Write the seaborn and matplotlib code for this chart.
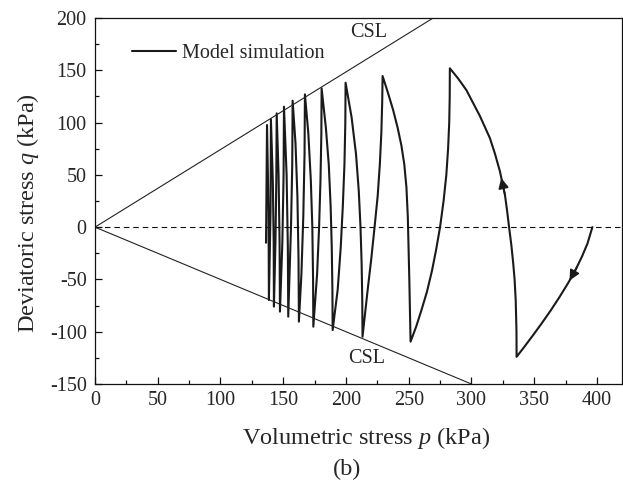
import matplotlib
matplotlib.use("Agg")
import matplotlib.pyplot as plt
from matplotlib.ticker import MultipleLocator
import seaborn as sns
import pandas as pd

# ---------------- data ----------------
# path of the model simulation, in drawing order (start at p ~ 396, q = 0)
p_sim = [396.4, 392.5, 388.0, 383.0, 377.0, 370.0, 363.0, 356.0, 349.0, 342.0, 336.0,   # start -> B1
         335.9, 335.3, 334.4, 333.3, 331.8, 330.0, 328.5, 326.7, 322.7,
         318.8, 314.7, 306.7, 296.0, 289.5, 282.8,                                # B1 -> T1
         282.7, 282.3, 281.4, 280.0, 277.8, 275.0, 271.8, 268.5, 264.5,
         260.0, 256.0, 251.5,                                                     # T1 -> B2
         251.0, 250.5, 249.9, 249.3, 248.2, 246.5, 244.2, 241.2, 237.6,
         233.6, 229.2,                                                            # B2 -> T2
         228.9, 228.2, 227.0, 225.3, 222.8, 220.2, 217.3, 213.2,                  # T2 -> B3
         213.0, 212.5, 211.6, 210.2, 208.0, 204.5, 199.7,                         # B3 -> T3
         199.5, 198.8, 197.5, 195.8, 193.4, 189.4,                                # T3 -> B4
         189.2, 188.7, 187.8, 186.3, 184.0, 180.6,                                # B4 -> T4
         180.4, 179.7, 178.6, 177.0, 174.0,                                       # T4 -> B5
         173.8, 173.2, 172.0, 170.0, 167.3,                                       # B5 -> T5
         167.0, 166.0, 164.5, 162.5,                                              # T5 -> B6
         162.2, 161.3, 159.8, 157.5,                                              # B6 -> T6
         157.2, 156.2, 154.0,                                                     # T6 -> B7
         153.7, 152.7, 150.6,                                                     # B7 -> T7
         150.3, 149.3, 147.4,                                                     # T7 -> B8
         147.1, 146.3, 144.8,                                                     # B8 -> T8
         144.5, 143.8, 142.6,                                                     # T8 -> B9
         142.4, 141.7, 140.2,                                                     # B9 -> T9
         139.9, 138.6,                                                            # T9 -> B10
         138.3, 137.1,                                                            # B10 -> T10
         136.3]                                                                   # end
q_sim = [0.0, -15.6, -28.4, -40.7, -53.6, -67.2, -80.0, -92.0, -103.5, -114.7, -124.0,
         -100.0, -70.0, -50.0, -34.6, -17.0, 0.0, 15.0, 31.0, 53.4,
         70.0, 85.2, 106.4, 131.0, 142.0, 151.9,
         125.0, 100.0, 75.0, 50.0, 25.0, 0.0, -22.0, -42.0, -62.0,
         -80.0, -95.0, -109.5,
         -80.0, -50.0, -20.0, 10.0, 38.0, 60.0, 78.0, 95.0, 112.0,
         128.0, 144.5,
         120.0, 90.0, 60.0, 30.0, 0.0, -30.0, -60.0, -104.8,
         -70.0, -35.0, 0.0, 35.0, 70.0, 105.0, 138.1,
         100.0, 60.0, 20.0, -20.0, -60.0, -98.4,
         -60.0, -20.0, 20.0, 60.0, 95.0, 132.7,
         90.0, 45.0, 0.0, -45.0, -95.2,
         -50.0, 0.0, 45.0, 90.0, 127.0,
         70.0, 10.0, -45.0, -90.4,
         -30.0, 30.0, 80.0, 120.9,
         60.0, 0.0, -85.6,
         -20.0, 50.0, 115.2,
         50.0, -15.0, -80.8,
         -15.0, 50.0, 108.8,
         45.0, -15.0, -76.0,
         -15.0, 45.0, 103.1,
         15.0, -69.7,
         15.0, 97.7,
         -14.9]

csl_upper_p = [0, 269.5]
csl_upper_q = [0, 200]
csl_lower_p = [0, 300]
csl_lower_q = [0, -150]
zero_p = [0, 420]
zero_q = [0, 0]

# arrows on the path: (tail p, tail q) -> (head p, head q)
arrow_up = [(326.6, 31.5), (323.8, 47.0)]
arrow_down = [(384.0, -38.5), (378.2, -51.0)]

x_ticks = [0, 50, 100, 150, 200, 250, 300, 350, 400]
y_ticks = [-150, -100, -50, 0, 50, 100, 150, 200]

# ---------------- style ----------------
sns.set_theme(style="ticks")
plt.rcParams.update({
    "font.family": ["Liberation Serif", "DejaVu Serif"],
    "mathtext.fontset": "custom",
    "mathtext.rm": "Liberation Serif",
    "mathtext.it": "Liberation Serif:italic",
    "axes.unicode_minus": False,
    "xtick.direction": "in",
    "ytick.direction": "in",
})

fig = plt.figure(figsize=(6.23, 4.86), dpi=100)
ax = fig.add_axes([95 / 623, 1 - 384 / 486, 527 / 623, 366 / 486])

line_col = "#1a1a1a"
df = pd.DataFrame({"p": p_sim, "q": q_sim})
sns.lineplot(data=df, x="p", y="q", sort=False, estimator=None,
             color=line_col, lw=1.5, label="Model simulation", ax=ax)

ax.plot(csl_upper_p, csl_upper_q, color="#222222", lw=0.8)
ax.plot(csl_lower_p, csl_lower_q, color="#222222", lw=0.8)
ax.plot(zero_p, zero_q, color="#111111", lw=0.8, ls=(0, (5, 3.5)))

for (tail, head) in (arrow_up, arrow_down):
    ax.annotate("", xy=head, xytext=tail,
                arrowprops=dict(arrowstyle="-|>", color=line_col, lw=1.3,
                                mutation_scale=15, shrinkA=0, shrinkB=0))

ax.text(203, 186.5, "CSL", fontsize=14.5, va="center", ha="left")
ax.text(201.5, -125.6, "CSL", fontsize=14.5, va="center", ha="left")

ax.set_xlim(0, 420)
ax.set_ylim(-150, 200)
ax.set_xticks(x_ticks)
ax.set_yticks(y_ticks)
ax.xaxis.set_minor_locator(MultipleLocator(25))
ax.yaxis.set_minor_locator(MultipleLocator(25))
ax.tick_params(which="major", length=5, width=0.9, labelsize=14.5, color="#111111")
ax.tick_params(which="minor", length=3, width=0.9, color="#111111")
ax.tick_params(axis="x", which="major", pad=5)
ax.tick_params(axis="y", which="major", pad=6)
for s in ax.spines.values():
    s.set_linewidth(0.9)
    s.set_color("#111111")

ax.set_xlabel("Volumetric stress $p$ (kPa)", fontsize=17.5)
ax.xaxis.set_label_coords((366 - 95) / 527, -0.111, transform=ax.transAxes)
ax.set_ylabel("Deviatoric stress $q$ (kPa)", fontsize=17.5)
ax.yaxis.set_label_coords(-0.103, 0.467, transform=ax.transAxes)

ax.legend(loc="upper left", bbox_to_anchor=(0.07, 0.929), frameon=False,
          fontsize=14.5, handlelength=2.2, handletextpad=0.3,
          borderpad=0, borderaxespad=0)

fig.text(347 / 623, 1 - 469 / 486, "(b)", fontsize=17.5, ha="center", va="center")

fig.savefig("out.png", dpi=100)
